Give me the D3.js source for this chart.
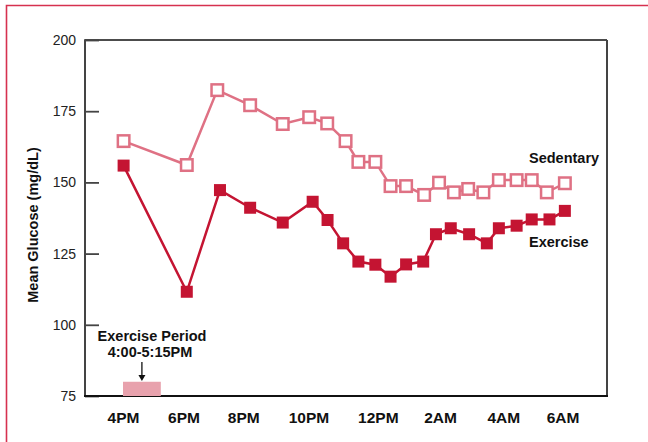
<!DOCTYPE html>
<html>
<head>
<meta charset="utf-8">
<script src="https://cdn.jsdelivr.net/npm/d3@7"></script>
<style>
  html, body { margin: 0; padding: 0; background: #fff; }
  svg { display: block; font-family: "Liberation Sans", Arial, sans-serif; }
</style>
</head>
<body>
<svg id="chart" width="648" height="442"></svg>
<script>
// ---- data (time in hours since midnight of day 1; 24 = midnight) ----
const xTickHours = [16, 18, 20, 22, 24, 26, 28, 30];
const xTickLabels = ["4PM", "6PM", "8PM", "10PM", "12PM", "2AM", "4AM", "6AM"];
const yTicks = [75, 100, 125, 150, 175, 200];

const sedentaryTimes = [16.02, 18.11, 19.13, 20.21, 21.21, 22.02, 22.54, 23.07, 23.44, 23.93, 24.41, 24.91, 25.49, 25.97, 26.44, 26.89, 27.37, 27.86, 28.45, 28.96, 29.47, 30.08];
const sedentary      = [164.5, 156.1, 182.4, 177.1, 170.5, 172.9, 170.7, 164.5, 157.2, 157.2, 148.7, 148.7, 145.6, 149.9, 146.5, 147.7, 146.5, 150.8, 150.8, 150.8, 146.5, 149.7];

const exerciseTimes = [16.02, 18.11, 19.22, 20.21, 21.21, 22.12, 22.55, 23.0, 23.44, 23.93, 24.41, 24.91, 25.46, 25.87, 26.34, 26.92, 27.48, 27.86, 28.45, 28.96, 29.56, 30.08];
const exercise      = [155.9, 111.6, 147.3, 141.1, 135.9, 143.2, 136.8, 128.6, 122.2, 121.1, 116.9, 121.2, 122.2, 131.8, 133.9, 131.8, 128.6, 133.9, 134.8, 137.0, 137.0, 140.0];

const exercisePeriod = [16.0, 17.25];   // 4:00-5:15PM
const exercisePeriodBand = [75, 80];

// ---- layout ----
const svg = d3.select("#chart");
const pLeft = 85, pRight = 607, pTop = 40, pBottom = 396;
// the printed time axis is not perfectly even: piecewise-linear scale through the tick positions
const x = d3.scaleLinear().domain(xTickHours)
  .range([123, 183.5, 243.3, 308.5, 377.8, 440, 503.3, 562.5]);
const y = d3.scaleLinear().domain([75, 200]).range([pBottom, pTop]);

const exColor = "#c41432";
const sedColor = "#df7184";

// outer red frame
svg.append("path")
  .attr("d", "M6.5,442 L6.5,5.5 L648,5.5")
  .attr("fill", "none").attr("stroke", "#d6314f").attr("stroke-width", 1.6);

// plot frame
svg.append("line").attr("x1", pLeft).attr("x2", pRight).attr("y1", pTop).attr("y2", pTop)
  .attr("stroke", "#111").attr("stroke-width", 1.5);
svg.append("line").attr("x1", pRight).attr("x2", pRight).attr("y1", pTop).attr("y2", pBottom)
  .attr("stroke", "#444").attr("stroke-width", 2);

// y axis: inward ticks
const yAxis = d3.axisRight(y).tickValues(yTicks).tickSize(14).tickFormat("");
const gy = svg.append("g").attr("transform", `translate(${pLeft},0)`).call(yAxis);
gy.select(".domain").remove();
gy.selectAll(".tick line").attr("stroke", "#444").attr("stroke-width", 1.8);
svg.append("line").attr("x1", pLeft).attr("x2", pLeft).attr("y1", pTop - 0.75).attr("y2", pBottom)
  .attr("stroke", "#444").attr("stroke-width", 2);

// y tick labels
svg.append("g").selectAll("text").data(yTicks).join("text")
  .attr("x", 76).attr("y", d => y(d) + 5)
  .attr("text-anchor", "end").attr("font-size", 14).attr("fill", "#222")
  .text(d => d);

// bottom axis line
svg.append("line").attr("x1", pLeft - 1).attr("x2", pRight + 1).attr("y1", pBottom).attr("y2", pBottom)
  .attr("stroke", "#111").attr("stroke-width", 2);

// x tick labels
const xAxis = d3.axisBottom(x).tickValues(xTickHours).tickSize(0)
  .tickFormat((d, i) => xTickLabels[i]);
const gx = svg.append("g").attr("transform", `translate(0,${pBottom})`).call(xAxis);
gx.select(".domain").remove();
gx.selectAll("text").attr("font-size", 15.5).attr("font-weight", "bold")
  .attr("fill", "#111").attr("dy", 0).attr("y", 26.5)
  .attr("font-family", "'Liberation Sans', Arial, sans-serif");

// y axis title
svg.append("text")
  .attr("transform", `translate(38,225) rotate(-90)`)
  .attr("text-anchor", "middle").attr("font-size", 14.5).attr("font-weight", "bold")
  .attr("fill", "#111").text("Mean Glucose (mg/dL)");

// exercise period band
svg.append("rect")
  .attr("x", x(exercisePeriod[0])).attr("width", x(exercisePeriod[1]) - x(exercisePeriod[0]))
  .attr("y", y(exercisePeriodBand[1])).attr("height", y(exercisePeriodBand[0]) - y(exercisePeriodBand[1]))
  .attr("fill", "#e8a2ad");

// annotation
svg.append("text").attr("x", 152).attr("y", 341).attr("text-anchor", "middle")
  .attr("font-size", 14.5).attr("font-weight", "bold").attr("fill", "#111").text("Exercise Period");
svg.append("text").attr("x", 150).attr("y", 357).attr("text-anchor", "middle")
  .attr("font-size", 14.5).attr("font-weight", "bold").attr("fill", "#111").text("4:00-5:15PM");
const ax = (x(exercisePeriod[0]) + x(exercisePeriod[1])) / 2;
svg.append("line").attr("x1", ax).attr("x2", ax).attr("y1", 362).attr("y2", 376)
  .attr("stroke", "#111").attr("stroke-width", 1.3);
svg.append("path").attr("d", `M${ax - 3.5},375 L${ax + 3.5},375 L${ax},381 Z`).attr("fill", "#111");

// lines
const line = d3.line().x(d => x(d[0])).y(d => y(d[1]));
const sedData = sedentaryTimes.map((t, i) => [t, sedentary[i]]);
const exData = exerciseTimes.map((t, i) => [t, exercise[i]]);

svg.append("path").datum(sedData).attr("d", line)
  .attr("fill", "none").attr("stroke", sedColor).attr("stroke-width", 2.5);
svg.append("path").datum(exData).attr("d", line)
  .attr("fill", "none").attr("stroke", exColor).attr("stroke-width", 2.5);

// markers
svg.append("g").selectAll("rect").data(sedData).join("rect")
  .attr("x", d => x(d[0]) - 5.75).attr("y", d => y(d[1]) - 5.75)
  .attr("width", 11.5).attr("height", 11.5)
  .attr("fill", "#fff").attr("stroke", sedColor).attr("stroke-width", 2.5);
svg.append("g").selectAll("rect").data(exData).join("rect")
  .attr("x", d => x(d[0]) - 6).attr("y", d => y(d[1]) - 6)
  .attr("width", 12).attr("height", 12)
  .attr("fill", exColor);

// series labels
svg.append("text").attr("x", 529).attr("y", 163).attr("font-size", 14.5)
  .attr("font-weight", "bold").attr("fill", "#111").text("Sedentary");
svg.append("text").attr("x", 529).attr("y", 247).attr("font-size", 14.5)
  .attr("font-weight", "bold").attr("fill", "#111").text("Exercise");
</script>
</body>
</html>
